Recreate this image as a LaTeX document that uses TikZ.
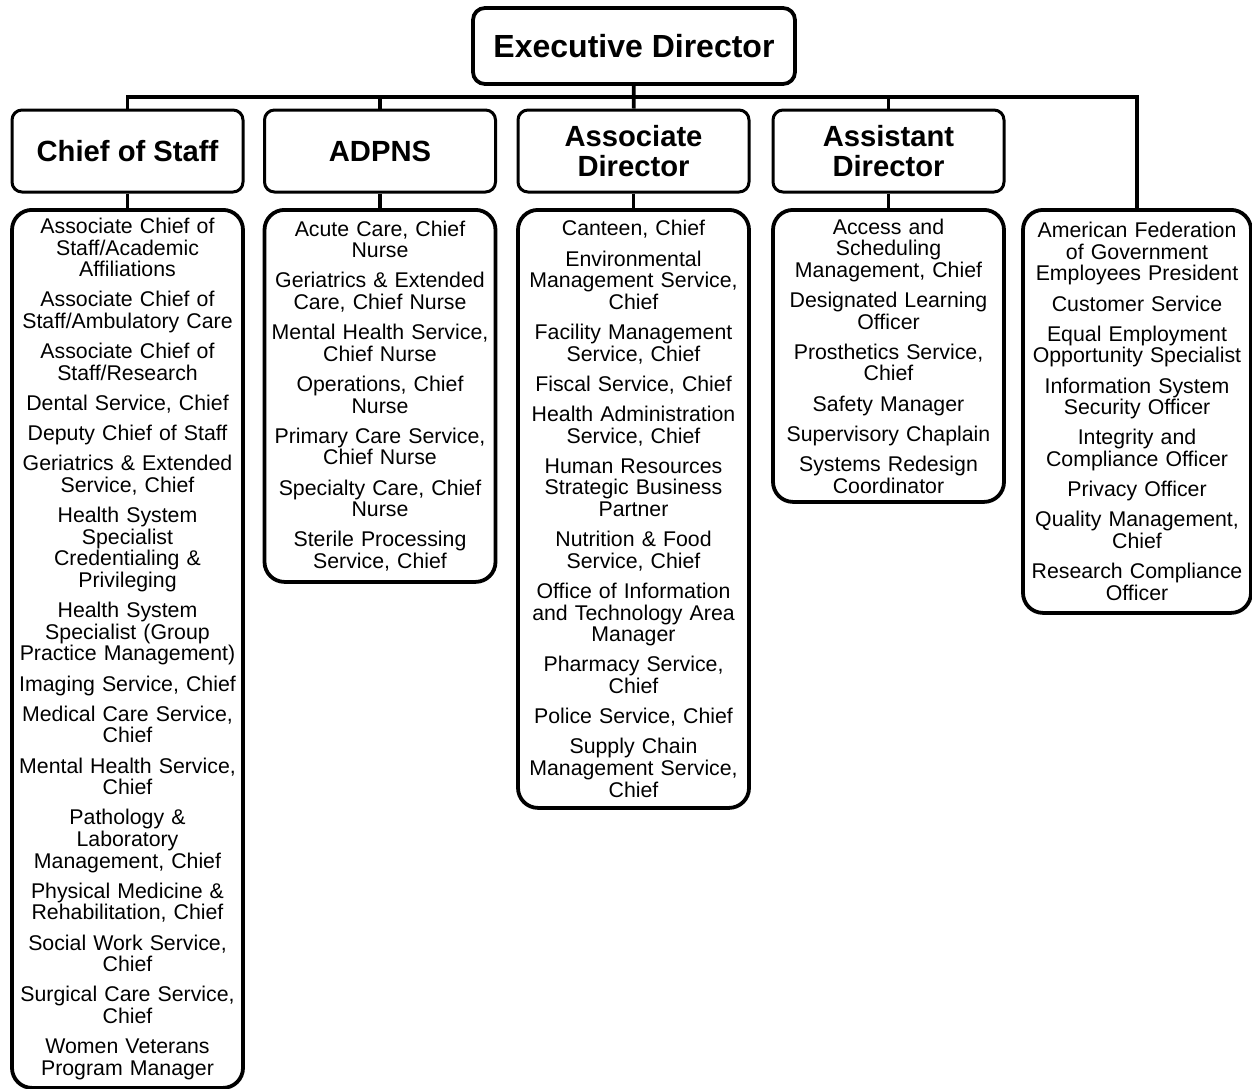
\documentclass[tikz,border=0pt]{standalone}
\usepackage{fontspec}
\setmainfont{Liberation Sans}
\usepackage{tikz}
\usetikzlibrary{positioning}
\tikzstyle{topbox} = [rectangle, rounded corners=6pt, line width=1.9pt, minimum width=161pt, minimum height=38pt, align=center, draw=black, font=\fontsize{16}{17}\selectfont\bfseries]
\tikzstyle{headbox} = [rectangle, rounded corners=5pt, line width=1.5pt, minimum width=115.5pt, minimum height=41pt, inner sep=2pt, align=center, draw=black, font=\fontsize{14.6}{15}\selectfont\bfseries]
\tikzstyle{listbox} = [rectangle, rounded corners=10pt, line width=1.9pt, text width=111.5pt, inner xsep=2pt, inner ysep=2pt, align=center, anchor=north, draw=black, font=\fontsize{10.65}{10.8}\selectfont]
\tikzstyle{link} = [line width=1.9pt]
\newcommand{\gap}{\\[4.3pt]}

\begin{document}
\begin{tikzpicture}[x=0.5pt, y=-0.5pt]
            \useasboundingbox (0,0) rectangle (1252,1088);
            % Nodes
            \node (exec) [topbox] at (634,46) {Executive Director};

            \node (cos) [headbox] at (127.5,151) {Chief of Staff};
            \node (adpns) [headbox] at (380,151) {ADPNS};
            \node (assoc) [headbox] at (633.5,151) {Associate\\Director};
            \node (asst) [headbox] at (888.5,151) {Assistant\\Director};

            \node (coslist) [listbox, minimum height=439pt] at (127.5,208) {Associate Chief of\\Staff/Academic\\Affiliations\gap
                Associate Chief of\\Staff/Ambulatory Care\gap
                Associate Chief of\\Staff/Research\gap
                Dental Service, Chief\gap
                Deputy Chief of Staff\gap
                Geriatrics \& Extended\\Service, Chief\gap
                Health System\\Specialist\\Credentialing \&\\Privileging\gap
                Health System\\Specialist (Group\\Practice Management)\gap
                Imaging Service, Chief\gap
                Medical Care Service,\\Chief\gap
                Mental Health Service,\\Chief\gap
                Pathology \&\\Laboratory\\Management, Chief\gap
                Physical Medicine \&\\Rehabilitation, Chief\gap
                Social Work Service,\\Chief\gap
                Surgical Care Service,\\Chief\gap
                Women Veterans\\Program Manager};
            \node (adpnslist) [listbox, minimum height=186pt] at (380,208) {Acute Care, Chief\\Nurse\gap
                Geriatrics \& Extended\\Care, Chief Nurse\gap
                Mental Health Service,\\Chief Nurse\gap
                Operations, Chief\\Nurse\gap
                Primary Care Service,\\Chief Nurse\gap
                Specialty Care, Chief\\Nurse\gap
                Sterile Processing\\Service, Chief};
            \node (assoclist) [listbox, minimum height=299pt] at (633.5,208) {Canteen, Chief\gap
                Environmental\\Management Service,\\Chief\gap
                Facility Management\\Service, Chief\gap
                Fiscal Service, Chief\gap
                Health Administration\\Service, Chief\gap
                Human Resources\\Strategic Business\\Partner\gap
                Nutrition \& Food\\Service, Chief\gap
                Office of Information\\and Technology Area\\Manager\gap
                Pharmacy Service,\\Chief\gap
                Police Service, Chief\gap
                Supply Chain\\Management Service,\\Chief};
            \node (asstlist) [listbox, minimum height=146pt] at (888.5,208) {Access and\\Scheduling\\Management, Chief\gap
                Designated Learning\\Officer\gap
                Prosthetics Service,\\Chief\gap
                Safety Manager\gap
                Supervisory Chaplain\gap
                Systems Redesign\\Coordinator};
            \node (staff) [listbox, minimum height=201.5pt, text width=110pt] at (1137,208) {American Federation\\of Government\\Employees President\gap
                Customer Service\gap
                Equal Employment\\Opportunity Specialist\gap
                Information System\\Security Officer\gap
                Integrity and\\Compliance Officer\gap
                Privacy Officer\gap
                Quality Management,\\Chief\gap
                Research Compliance\\Officer};

            % Edges
            \coordinate (bus) at (634,97);
            \draw [link] (exec) -- (assoc);
            \draw [link] (cos) |- (bus) -| (staff);
            \draw [link] (adpns) -- (adpns |- bus);
            \draw [link] (asst) -- (asst |- bus);
            \draw [link] (cos) -- (coslist);
            \draw [link] (adpns) -- (adpnslist);
            \draw [link] (assoc) -- (assoclist);
            \draw [link] (asst) -- (asstlist);
        \end{tikzpicture}
\end{document}
